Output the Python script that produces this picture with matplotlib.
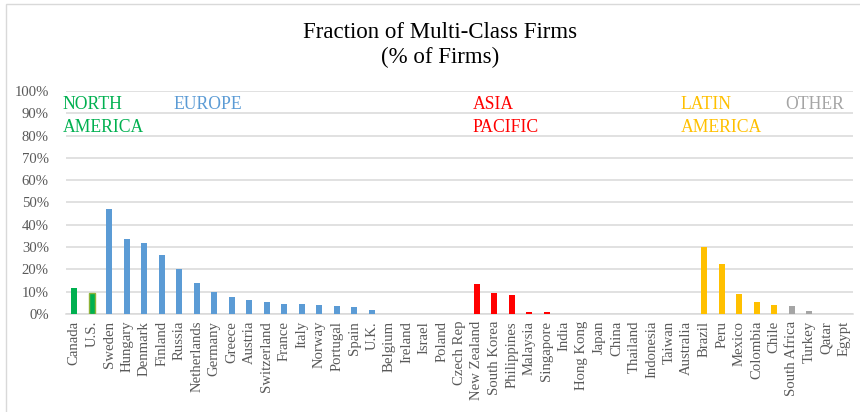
import matplotlib
matplotlib.use("Agg")
import matplotlib.pyplot as plt
from matplotlib.patches import Rectangle
from matplotlib.ticker import FuncFormatter, MultipleLocator

countries = ["Canada", "U.S.", "Sweden", "Hungary", "Denmark", "Finland", "Russia",
             "Netherlands", "Germany", "Greece", "Austria", "Switzerland", "France",
             "Italy", "Norway", "Portugal", "Spain", "U.K.", "Belgium", "Ireland",
             "Israel", "Poland", "Czech Rep", "New Zealand", "South Korea",
             "Philippines", "Malaysia", "Singapore", "India", "Hong Kong", "Japan",
             "China", "Thailand", "Indonesia", "Taiwan", "Australia", "Brazil",
             "Peru", "Mexico", "Colombia", "Chile", "South Africa", "Turkey",
             "Qatar", "Egypt"]
values = [11.5, 9.3, 47.0, 33.5, 32.0, 26.5, 20.0,
          13.7, 9.8, 7.5, 6.2, 5.5, 4.7,
          4.4, 4.2, 3.5, 3.0, 2.0, 0, 0,
          0, 0, 0, 13.5, 9.4,
          8.3, 1.0, 0.7, 0, 0, 0,
          0, 0, 0, 0, 0, 30.0,
          22.5, 8.8, 5.2, 4.2, 3.8, 1.5,
          0, 0]
regions = ["NA"] * 2 + ["EU"] * 21 + ["AP"] * 13 + ["LA"] * 5 + ["OT"] * 4
region_colors = {"NA": "#00B050", "EU": "#5B9BD5", "AP": "#FF0000",
                 "LA": "#FFC000", "OT": "#A5A5A5"}
region_labels = [("NORTH\nAMERICA", "NA", -0.65),
                 ("EUROPE", "EU", 5.65),
                 ("ASIA\nPACIFIC", "AP", 22.75),
                 ("LATIN\nAMERICA", "LA", 34.65),
                 ("OTHER", "OT", 40.6)]

plt.rcParams['font.family'] = ['Liberation Serif', 'DejaVu Serif']

fig = plt.figure(figsize=(8.6, 4.12), dpi=100)
ax = fig.add_axes([65.5 / 860, 1 - 314 / 412, (853 - 65.5) / 860, (314 - 91) / 412])

# chart border
fig.patches.append(Rectangle((6 / 860, -0.1), 1.2, 1 - 4 / 412 + 0.1,
                             transform=fig.transFigure, fill=False,
                             edgecolor="#D9D9D9", linewidth=1.0, zorder=0))

x = list(range(len(countries)))
colors = [region_colors[r] for r in regions]
bars = ax.bar(x, [v / 100 for v in values], width=0.34, color=colors, zorder=3)
bars[1].set_edgecolor("#8FB339")
bars[1].set_linewidth(1.0)

ax.set_xlim(-0.5, len(countries) - 0.5)
ax.set_ylim(0, 1.0)
ax.yaxis.set_major_locator(MultipleLocator(0.1))
ax.yaxis.set_major_formatter(FuncFormatter(lambda v, p: f"{v * 100:.0f}%"))
ax.grid(axis="y", color="#D9D9D9", linewidth=1.1, zorder=0)
ax.set_axisbelow(True)
for s in ["top", "right", "left"]:
    ax.spines[s].set_visible(False)
ax.spines["bottom"].set_color("#D9D9D9")
ax.spines["bottom"].set_linewidth(1.1)
ax.tick_params(axis="both", length=0, colors="#595959", labelsize=10.6)
ax.tick_params(axis="y", pad=12)
ax.tick_params(axis="x", pad=5)
ax.set_xticks(x)
ax.set_xticklabels(countries, rotation=90, color="#595959", fontsize=10.6)

for text, reg, xpos in region_labels:
    ax.text(xpos, 0.976, text, color=region_colors[reg], fontsize=12.7,
            ha="left", va="top", linespacing=1.45)

fig.text(440 / 860, 1 - 45 / 412, "Fraction of Multi-Class Firms\n(% of Firms)",
         ha="center", va="center", fontsize=16.5, color="#000000", linespacing=1.2)

fig.savefig("out.png", dpi=100)
